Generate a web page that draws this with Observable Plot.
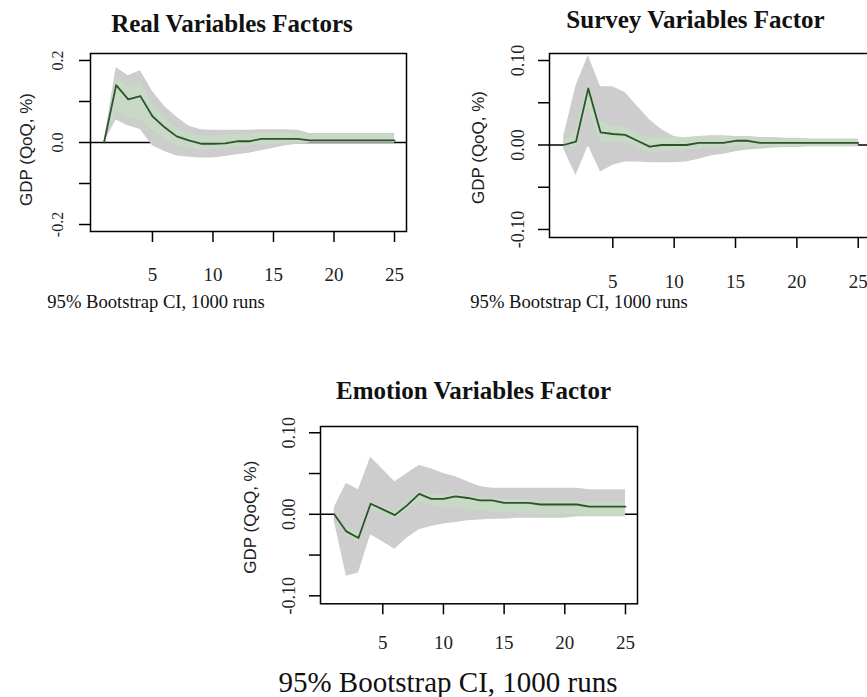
<!DOCTYPE html>
<html><head><meta charset="utf-8">
<script src="https://cdn.jsdelivr.net/npm/d3@7"></script>
<script src="https://cdn.jsdelivr.net/npm/@observablehq/plot@0.6"></script>
<style>
html,body{margin:0;padding:0;background:#fff;}
#root{position:relative;width:867px;height:697px;overflow:hidden;background:#fff;}
.abs{position:absolute;}
.title{font-family:"Liberation Serif",serif;font-weight:bold;font-size:25px;line-height:25px;white-space:nowrap;text-align:center;color:#111;}
.cap{font-family:"Liberation Serif",serif;white-space:nowrap;text-align:center;color:#111;}
</style></head><body><div id="root"></div>
<script>
// ---------------- data ----------------
const horizon = [1,2,3,4,5,6,7,8,9,10,11,12,13,14,15,16,17,18,19,20,21,22,23,24,25];
const xTicks = [5,10,15,20,25];
const yAxisTitle = "GDP (QoQ, %)";
const captionText = "95% Bootstrap CI, 1000 runs";

const realTitle = "Real Variables Factors";
const realIrf   = [0,0.14,0.105,0.113,0.064,0.037,0.015,0.005,-0.003,-0.003,-0.002,0.003,0.003,0.009,0.009,0.009,0.009,0.005,0.005,0.005,0.005,0.005,0.005,0.005,0.005];
const realUpper = [0,0.183,0.163,0.175,0.125,0.088,0.062,0.04,0.031,0.03,0.03,0.03,0.03,0.031,0.031,0.031,0.03,0.022,0.022,0.022,0.022,0.022,0.022,0.022,0.022];
const realLower = [0,0.055,0.04,0.032,-0.008,-0.022,-0.033,-0.036,-0.038,-0.038,-0.034,-0.03,-0.026,-0.02,-0.014,-0.008,-0.004,-0.002,-0.002,-0.002,-0.002,-0.002,-0.002,-0.002,-0.002];
const realInnerUpper = [0,0.16,0.135,0.145,0.095,0.06,0.035,0.022,0.016,0.016,0.018,0.02,0.022,0.024,0.024,0.024,0.022,0.019,0.019,0.019,0.019,0.019,0.019,0.019,0.019];
const realInnerLower = [0,0.075,0.06,0.055,0.03,0.01,-0.006,-0.014,-0.018,-0.018,-0.015,-0.011,-0.008,-0.006,-0.004,-0.002,-0.001,0,0,0,0,0,0,0,0];
const realYTicks = [-0.2,-0.1,0,0.1,0.2];
const realYLabels = ["-0.2","","0.0","","0.2"];

const surveyTitle = "Survey Variables Factor";
const surveyIrf   = [0,0.004,0.067,0.015,0.013,0.012,0.005,-0.002,0,0,0,0.0025,0.0025,0.0025,0.005,0.005,0.0025,0.0025,0.0025,0.0025,0.0025,0.0025,0.0025,0.0025,0.0025];
const surveyUpper = [0.01,0.07,0.106,0.069,0.069,0.062,0.046,0.03,0.018,0.01,0.008,0.01,0.011,0.011,0.01,0.01,0.009,0.009,0.008,0.008,0.007,0.006,0.006,0.006,0.006];
const surveyLower = [-0.005,-0.036,-0.001,-0.032,-0.024,-0.02,-0.02,-0.021,-0.021,-0.021,-0.02,-0.017,-0.013,-0.011,-0.008,-0.006,-0.005,-0.004,-0.003,-0.003,-0.002,-0.002,-0.002,-0.002,-0.002];
const surveyInnerUpper = [0.004,0.015,0.075,0.027,0.022,0.021,0.014,0.009,0.009,0.009,0.009,0.01,0.01,0.01,0.01,0.01,0.008,0.007,0.007,0.007,0.007,0.007,0.007,0.007,0.007];
const surveyInnerLower = [0,-0.003,0.045,0.003,0.003,0.003,-0.004,-0.01,-0.008,-0.007,-0.006,-0.005,-0.004,-0.003,-0.002,-0.002,-0.002,-0.002,-0.002,-0.002,-0.002,-0.002,-0.002,-0.002,-0.002];
const surveyYTicks = [-0.1,-0.05,0,0.05,0.1];
const surveyYLabels = ["-0.10","","0.00","","0.10"];

const emotionTitle = "Emotion Variables Factor";
const emotionIrf   = [0,-0.021,-0.029,0.013,0.006,-0.001,0.011,0.025,0.019,0.019,0.022,0.02,0.017,0.017,0.014,0.014,0.014,0.012,0.012,0.012,0.012,0.0095,0.0095,0.0095,0.0095];
const emotionUpper = [0.008,0.038,0.03,0.07,0.055,0.04,0.05,0.06,0.056,0.05,0.046,0.04,0.034,0.032,0.032,0.032,0.032,0.032,0.032,0.032,0.032,0.03,0.03,0.03,0.03];
const emotionLower = [-0.008,-0.076,-0.072,-0.025,-0.034,-0.043,-0.029,-0.019,-0.015,-0.012,-0.01,-0.008,-0.007,-0.006,-0.006,-0.005,-0.005,-0.005,-0.005,-0.005,-0.003,-0.003,-0.003,-0.003,-0.003];
const emotionInnerUpper = [0,-0.017,-0.024,0.016,0.009,0.003,0.014,0.028,0.024,0.023,0.025,0.023,0.021,0.02,0.018,0.018,0.018,0.016,0.016,0.016,0.016,0.014,0.014,0.014,0.014];
const emotionInnerLower = [0,-0.026,-0.034,0.008,0,-0.006,0.005,0.015,0.01,0.008,0.008,0.006,0.004,0.003,0.002,0.001,0,0,-0.001,-0.001,-0.001,-0.002,-0.002,-0.002,-0.002];
const emotionYTicks = [-0.1,-0.05,0,0.05,0.1];
const emotionYLabels = ["-0.10","","0.00","","0.10"];

// ---------------- layout ----------------
const root = document.getElementById("root");
const SERIF = "Liberation Serif, Times New Roman, serif";
const SANS = "Liberation Sans, Arial, sans-serif";

function panel(cfg) {
  const rows = horizon.map((t, i) => ({
    t, irf: cfg.irf[i], lo: cfg.lower[i], hi: cfg.upper[i], ilo: cfg.innerLower[i], ihi: cfg.innerUpper[i]
  }));
  const svg = Plot.plot({
    width: cfg.w, height: cfg.h,
    marginLeft: cfg.boxL - cfg.left,
    marginRight: cfg.left + cfg.w - cfg.boxR,
    marginTop: cfg.boxT - cfg.top,
    marginBottom: cfg.top + cfg.h - cfg.boxB,
    x: {domain: cfg.xDomain},
    y: {domain: cfg.yDomain},
    style: {background: "transparent", color: "black", overflow: "visible"},
    marks: [
      Plot.ruleY([0], {stroke: "black", strokeWidth: 1.5}),
      Plot.areaY(rows, {x: "t", y1: "lo", y2: "hi", fill: "#cdcdcd"}),
      Plot.areaY(rows, {x: "t", y1: "ilo", y2: "ihi", fill: "#c8d9c5"}),
      Plot.lineY(rows, {x: "t", y: "irf", stroke: "#2b532c", strokeWidth: 1.8}),
      Plot.frame({stroke: "black", strokeWidth: 1.5}),
      Plot.axisX(xTicks, {tickSize: 11, tickFormat: () => "", label: null, strokeWidth: 1.5}),
      Plot.axisY(cfg.yTicks, {tickSize: 11, tickFormat: () => "", label: null, strokeWidth: 1.5}),
      Plot.text(xTicks, {x: d => d, text: d => String(d), frameAnchor: "bottom", lineAnchor: "bottom",
        dy: cfg.xLabelBase - cfg.boxB, fontSize: 19, fontFamily: SERIF, fill: "#222"}),
      Plot.text(cfg.yTicks, {y: d => d, text: (d, i) => cfg.yLabels[i], frameAnchor: "left", rotate: -90,
        textAnchor: "middle", lineAnchor: "bottom", dx: cfg.yLabelBase - cfg.boxL, fontSize: cfg.yFont, fontFamily: SERIF, fill: "#222"}),
      Plot.text([yAxisTitle], {text: d => d, frameAnchor: "left", rotate: -90, textAnchor: "middle", lineAnchor: "bottom",
        dx: cfg.titleBase - cfg.boxL, dy: cfg.titleDy, fontSize: 17, fontFamily: SANS, fill: "#222"})
    ]
  });
  svg.style.position = "absolute";
  svg.style.left = cfg.left + "px";
  svg.style.top = cfg.top + "px";
  svg.style.maxWidth = "none";
  root.appendChild(svg);

  const t = document.createElement("div");
  t.className = "abs title";
  t.textContent = cfg.title;
  t.style.width = "400px";
  t.style.left = (cfg.titleX - 200) + "px";
  t.style.top = (cfg.titleBaseline - 0.8375 * 25) + "px";
  root.appendChild(t);

  const c = document.createElement("div");
  c.className = "abs cap";
  c.textContent = captionText;
  c.style.width = "500px";
  c.style.fontSize = cfg.capFont + "px";
  c.style.lineHeight = cfg.capFont + "px";
  c.style.left = (cfg.capX - 250) + "px";
  c.style.top = (cfg.capBaseline - 0.8375 * cfg.capFont) + "px";
  root.appendChild(c);
}

panel({
  title: realTitle, irf: realIrf, upper: realUpper, lower: realLower, innerUpper: realInnerUpper, innerLower: realInnerLower,
  yTicks: realYTicks, yLabels: realYLabels, yFont: 16,
  left: 0, top: 40, w: 430, h: 260,
  boxL: 90, boxR: 406, boxT: 53, boxB: 231,
  xDomain: [-0.12, 25.99], yDomain: [-0.217, 0.217],
  xLabelBase: 280, yLabelBase: 62, titleBase: 31, titleDy: 7,
  titleX: 232, titleBaseline: 31.7, capX: 156, capBaseline: 309, capFont: 18.6
});
panel({
  title: surveyTitle, irf: surveyIrf, upper: surveyUpper, lower: surveyLower, innerUpper: surveyInnerUpper, innerLower: surveyInnerLower,
  yTicks: surveyYTicks, yLabels: surveyYLabels, yFont: 18,
  left: 440, top: 40, w: 440, h: 260,
  boxL: 549, boxR: 869.5, boxT: 53, boxB: 237,
  xDomain: [-0.16, 25.96], yDomain: [-0.1095, 0.1083],
  xLabelBase: 287, yLabelBase: 523, titleBase: 483, titleDy: 2,
  titleX: 695.5, titleBaseline: 28.3, capX: 579, capBaseline: 309, capFont: 18.6
});
panel({
  title: emotionTitle, irf: emotionIrf, upper: emotionUpper, lower: emotionLower, innerUpper: emotionInnerUpper, innerLower: emotionInnerLower,
  yTicks: emotionYTicks, yLabels: emotionYLabels, yFont: 18,
  left: 200, top: 410, w: 460, h: 260,
  boxL: 320, boxR: 637, boxT: 426, boxB: 603.3,
  xDomain: [-0.13, 25.99], yDomain: [-0.1098, 0.1077],
  xLabelBase: 648, yLabelBase: 294, titleBase: 255, titleDy: 2,
  titleX: 473.5, titleBaseline: 399.3, capX: 448, capBaseline: 692, capFont: 29
});
</script>
</body></html>
